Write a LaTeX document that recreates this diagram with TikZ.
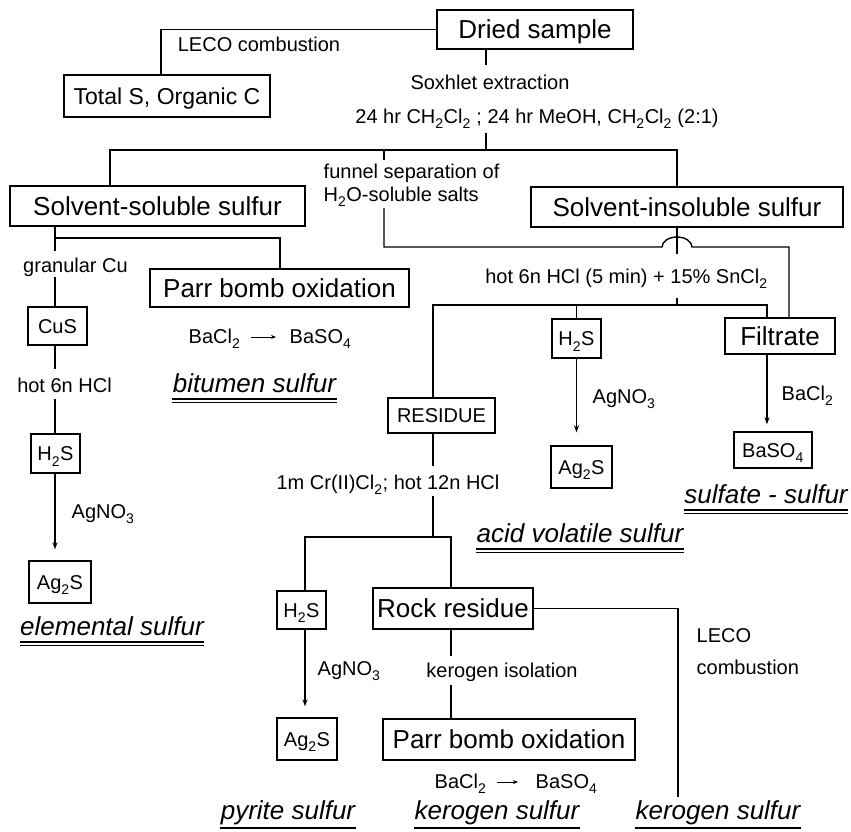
\documentclass[tikz,border=0pt]{standalone}
\usepackage{fontspec}
\setmainfont{Liberation Sans}
\usetikzlibrary{arrows.meta,calc}
\newcommand{\subs}[1]{\raisebox{-0.12em}{\textsubscript{#1}}}
\newcommand{\dul}[1]{%
  \draw[line width=1.6pt] ($(#1.base west)+(0,7)$) -- ($(#1.base east)+(0,7)$);
  \draw[line width=1pt] ($(#1.base west)+(0,10.5)$) -- ($(#1.base east)+(0,10.5)$);}
\newcommand{\sul}[1]{%
  \draw[line width=1.6pt] ($(#1.base west)+(0,9)$) -- ($(#1.base east)+(0,9)$);}
\begin{document}
\begin{tikzpicture}[x=1pt,y=-1pt,line width=1.4pt,
  box/.style={draw,inner sep=0pt,align=center,text depth=0pt},
  lgbox/.style={box,font=\fontsize{26}{30}\selectfont,text height=18.7pt},
  mdbox/.style={box,font=\fontsize{23}{27}\selectfont,text height=16.5pt},
  smbox/.style={box,font=\fontsize{20}{24}\selectfont,text height=14.4pt},
  lbl/.style={inner sep=0pt,anchor=base,font=\fontsize{20}{24}\selectfont},
  lbll/.style={lbl,anchor=base west},
  res/.style={inner sep=0pt,anchor=base,font=\fontsize{26}{30}\selectfont\itshape},
  arr/.style={-{Stealth[length=7pt,width=5pt]}},
  tarr/.style={line width=0.9pt,-{Stealth[length=5pt,width=4pt]}}
]
\useasboundingbox[fill=white] (0,0) rectangle (851,831);

% boxes
\node[lgbox,minimum width=196pt,minimum height=39pt] (dried) at (535,29.5) {Dried sample};
\node[mdbox,minimum width=206pt,minimum height=42pt] (total) at (167,96) {Total S, Organic C};
\node[lgbox,minimum width=295pt,minimum height=40pt] (ssol) at (157.5,206) {Solvent-soluble sulfur};
\node[lgbox,minimum width=312pt,minimum height=40pt] (sins) at (687,207) {Solvent-insoluble sulfur};
\node[lgbox,minimum width=259pt,minimum height=38pt] (parrA) at (279.5,288) {Parr bomb oxidation};
\node[smbox,minimum width=59pt,minimum height=38pt] (cus) at (57.5,326) {CuS};
\node[smbox,minimum width=49pt,minimum height=39pt] (hsA) at (55.5,453.5) {H\subs{2}S};
\node[smbox,minimum width=62pt,minimum height=42pt] (agA) at (60,582) {Ag\subs{2}S};
\node[smbox,minimum width=49pt,minimum height=39pt] (hsB) at (576.5,338.5) {H\subs{2}S};
\node[smbox,minimum width=61pt,minimum height=42pt] (agB) at (581.5,467) {Ag\subs{2}S};
\node[lgbox,minimum width=110pt,minimum height=36pt] (filt) at (780,336) {Filtrate};
\node[smbox,minimum width=78pt,minimum height=36pt] (baso) at (773,450) {BaSO\subs{4}};
\node[smbox,minimum width=107pt,minimum height=35pt] (resid) at (441.5,415.5) {RESIDUE};
\node[smbox,minimum width=49pt,minimum height=38pt] (hsC) at (301.5,610) {H\subs{2}S};
\node[smbox,minimum width=60pt,minimum height=42pt] (agC) at (307,739) {Ag\subs{2}S};
\node[lgbox,minimum width=160pt,minimum height=41pt] (rock) at (453,608.5) {Rock residue};
\node[lgbox,minimum width=252pt,minimum height=41pt] (parrB) at (509,739.5) {Parr bomb oxidation};

% labels
\node[lbl] (leco1) at (259,51) {LECO combustion};
\node[lbl] (sox) at (490,89) {Soxhlet extraction};
\node[lbl] (solv) at (537,123) {24 hr CH\subs{2}Cl\subs{2} ; 24 hr MeOH, CH\subs{2}Cl\subs{2} (2:1)};
\node[lbll] (fun1) at (323,178) {funnel separation of};
\node[lbll] (fun2) at (323,201) {H\subs{2}O-soluble salts};
\node[lbl] (gran) at (75.5,272) {granular Cu};
\node[lbl] (hclA) at (64.5,392) {hot 6n HCl};
\node[lbll] (agnoA) at (71,518) {AgNO\subs{3}};
\node[lbll] (baclA) at (188,343) {BaCl\subs{2}};
\node[lbll] (basoA) at (289,343) {BaSO\subs{4}};
\node[res] (bitu) at (254.5,392) {bitumen sulfur};
\node[lbl] (hclB) at (626.5,283) {hot 6n HCl (5 min) + 15\% SnCl\subs{2}};
\node[lbll] (agnoB) at (592,403) {AgNO\subs{3}};
\node[lbll] (baclB) at (781,400) {BaCl\subs{2}};
\node[res] (sulf) at (766,503) {sulfate - sulfur};
\node[lbl] (crcl) at (388,489) {1m Cr(II)Cl\subs{2}; hot 12n HCl};
\node[res] (avs) at (580,542) {acid volatile sulfur};
\node[res] (elem) at (112,635) {elemental sulfur};
\node[lbll] (agnoC) at (317,675) {AgNO\subs{3}};
\node[lbl] (kiso) at (502,677) {kerogen isolation};
\node[lbll] (leco2) at (696,642) {LECO};
\node[lbll] (comb2) at (696,674) {combustion};
\node[lbll] (baclC) at (434,788) {BaCl\subs{2}};
\node[lbll] (basoC) at (535,788) {BaSO\subs{4}};
\node[res] (pyr) at (288,819) {pyrite sulfur};
\node[res] (kerA) at (497,819) {kerogen sulfur};
\node[res] (kerB) at (718,819) {kerogen sulfur};

% top connectors
\draw (dried.west) -| ($(total.north)+(-6,0)$);
\coordinate (d1) at ($(dried.south)+(-49,0)$);
\draw (d1) -- ++(0,15);
\coordinate (j1) at (486,150);
\draw (486,133) -- (j1);
\coordinate (ssin) at ($(ssol.north)+(-47.5,0)$);
\coordinate (siin) at ($(sins.north)+(-10,0)$);
\draw (ssin) -- (ssin |- j1) -- (siin |- j1) -- (siin);

% funnel separation branch
\draw (384,150) -- (384,160);
\coordinate (h247) at (0,247);
\coordinate (filtin2) at ($(filt.north)+(9,0)$);
\draw (384,208) -- (384,247) -- (662,247)
  arc[start angle=180,end angle=360,x radius=15,y radius=10]
  -- (filtin2 |- h247) -- (filtin2);

% solvent-insoluble branch
\coordinate (siout) at ($(sins.south)+(-10,0)$);
\draw (siout) -- (677,254);
\draw (677,298) -- (677,305);
\coordinate (h305) at (0,305);
\coordinate (resin) at ($(resid.north)+(-8.5,0)$);
\coordinate (filtin1) at ($(filt.north)+(-13,0)$);
\draw (resin) -- (resin |- h305) -- (filtin1 |- h305) -- (filtin1);
\draw (hsB.north) -- (hsB.north |- h305);
\draw[arr] (hsB.south) -- ($(agB.north)+(-5,-13)$);
\draw[arr] ($(filt.south)+(-13,0)$) -- ($(baso.north)+(-6,-7)$);

% residue branch
\coordinate (resout) at ($(resid.south)+(-8.5,0)$);
\draw (resout) -- ++(0,32);
\coordinate (h537) at (0,537);
\draw ($(resout)+(0,62)$) -- (resout |- h537);
\coordinate (hcin) at ($(hsC.north)+(3.5,0)$);
\coordinate (rkin) at ($(rock.north)+(-2,0)$);
\draw (hcin) -- (hcin |- h537) -- (rkin |- h537) -- (rkin);
\draw[arr] ($(hsC.south)+(3.5,0)$) -- ($(agC.north)+(-2,-11)$);
\coordinate (kend) at (678,797);
\draw (rock.east) -- (kend |- rock.east) -- (kend);
\coordinate (rkout) at ($(rock.south)+(-2,0)$);
\draw (rkout) -- ++(0,26);
\draw ($(parrB.north)+(-58,-33)$) -- ($(parrB.north)+(-58,0)$);

% solvent-soluble branch
\coordinate (ssout) at ($(ssol.south)+(-102.5,0)$);
\draw (ssout) -- ++(0,24);
\coordinate (h238) at (0,238);
\coordinate (pain) at ($(parrA.north)+(0.5,0)$);
\draw (ssout |- h238) -- (pain |- h238) -- (pain);
\draw ($(cus.north)+(-2.5,-29)$) -- ($(cus.north)+(-2.5,0)$);
\draw ($(cus.south)+(-2.5,0)$) -- ++(0,23);
\draw ($(hsA.north)+(-0.5,-34)$) -- ($(hsA.north)+(-0.5,0)$);
\draw[arr] ($(hsA.south)+(-0.5,0)$) -- ($(agA.north)+(-5,-11)$);

% reagent arrows
\draw[tarr] ($(baclA.base east)+(10,-6)$) -- ($(basoA.base west)+(-13,-6)$);
\draw[tarr] ($(baclC.base east)+(10,-6)$) -- ($(basoC.base west)+(-17,-6)$);

% underlines
\dul{bitu}
\dul{sulf}
\dul{avs}
\dul{elem}
\sul{pyr}
\sul{kerA}
\sul{kerB}
\end{tikzpicture}
\end{document}
